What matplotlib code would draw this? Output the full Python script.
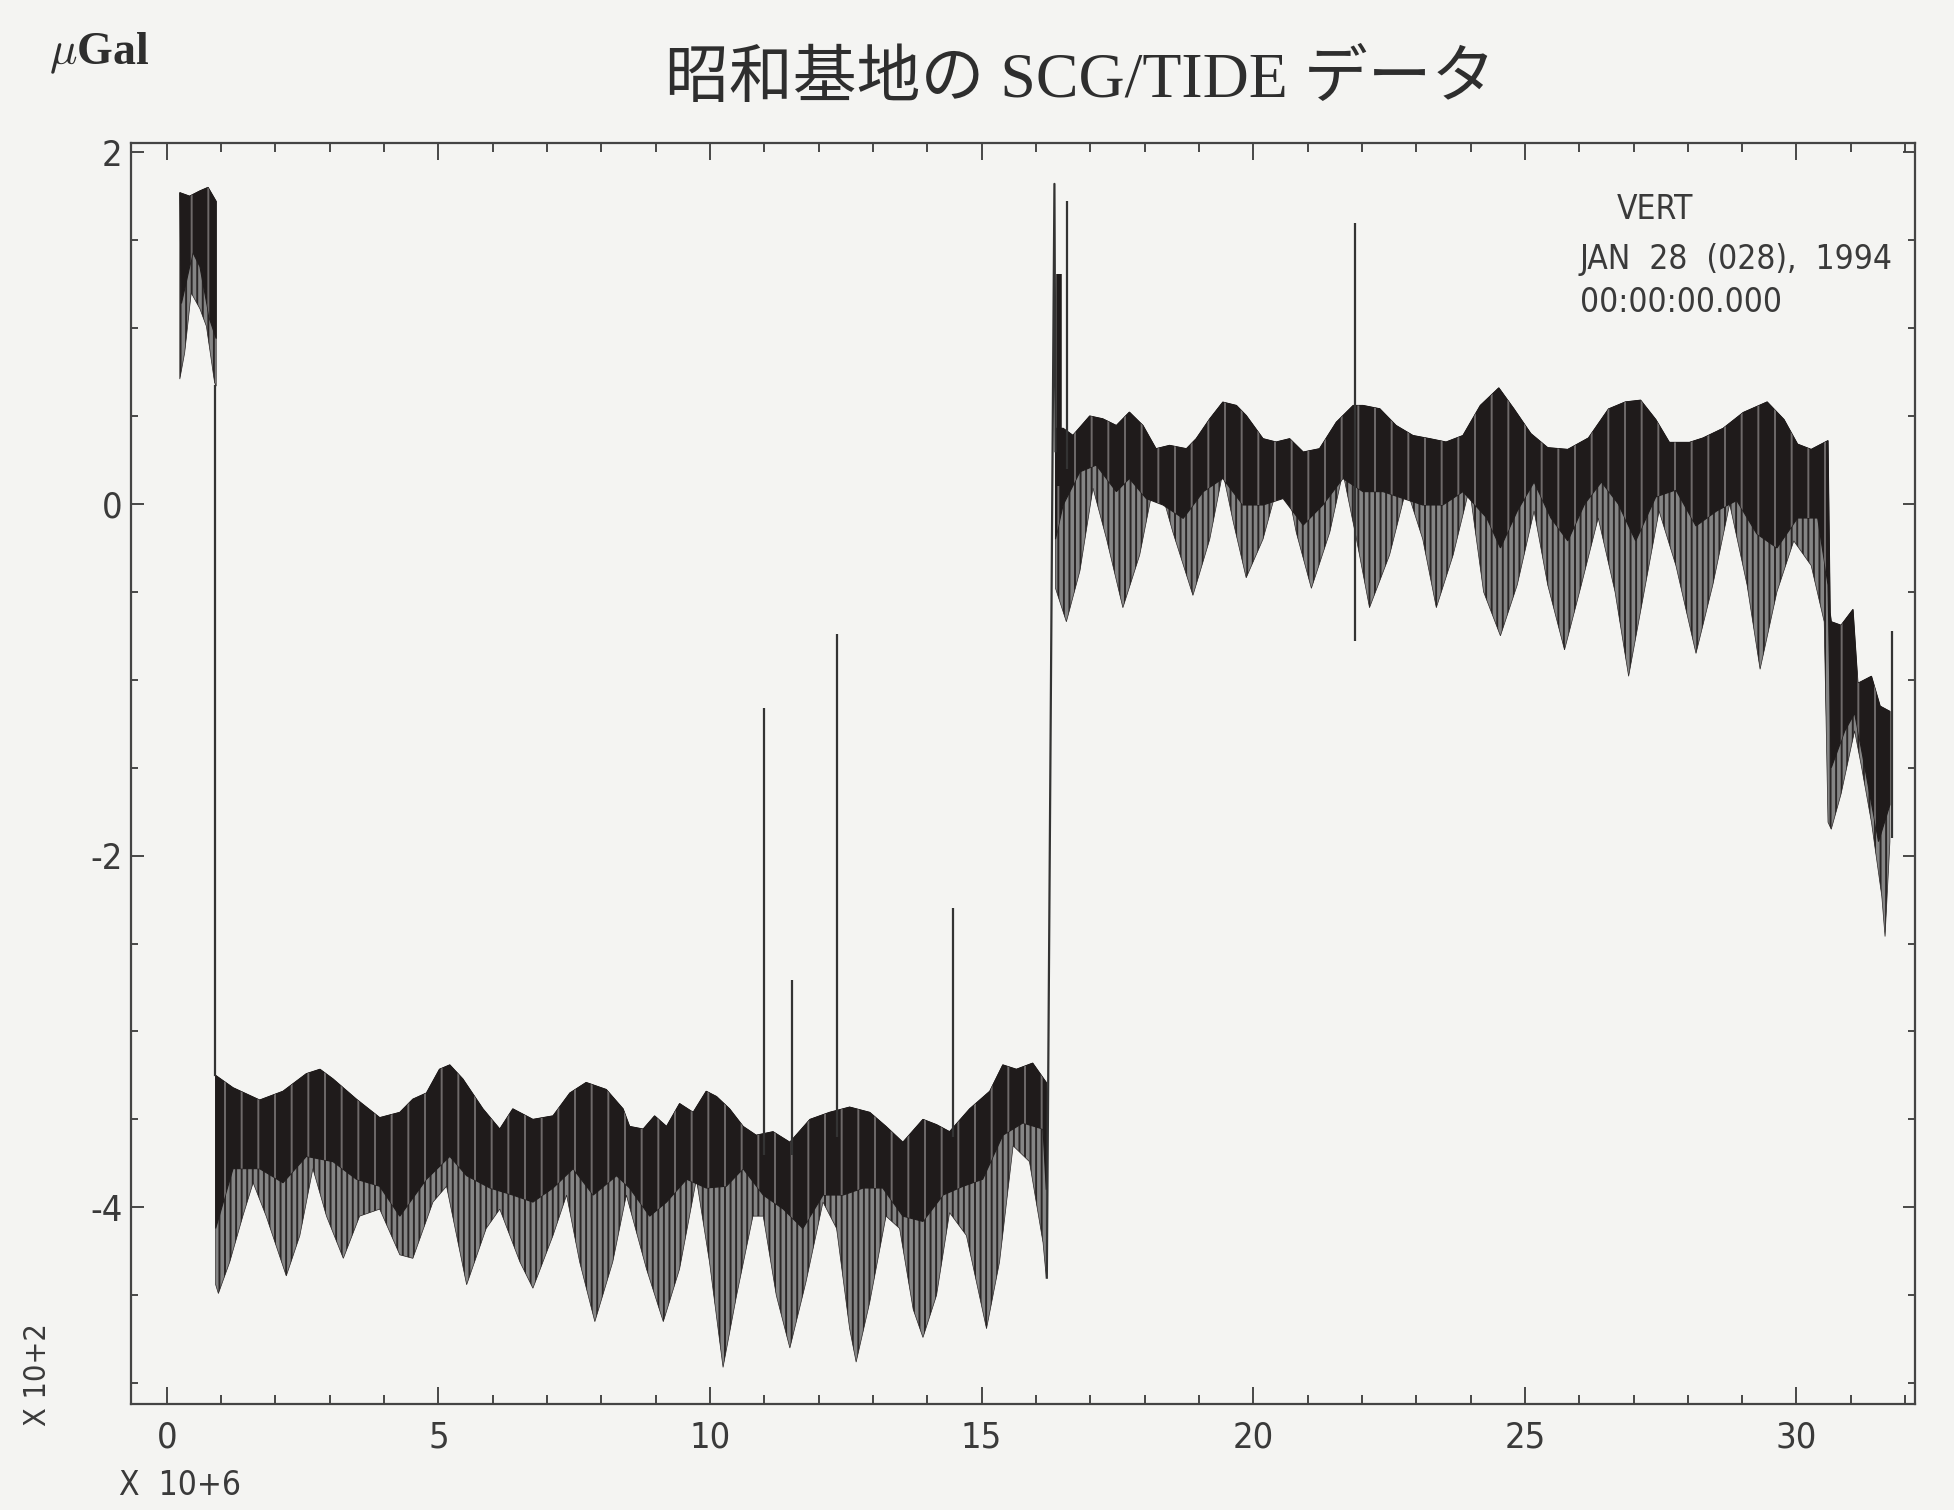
import matplotlib
matplotlib.use('Agg')
import matplotlib.pyplot as plt
import matplotlib.font_manager as fm
import numpy as np
from matplotlib.ticker import MultipleLocator

# ---------------- data (x in 10^6 s, y in 10^2 uGal) ----------------
# segment 1: first short block
s1_up_x = [0.24, 0.42, 0.61, 0.76, 0.91]
s1_up_y = [1.77, 1.75, 1.78, 1.80, 1.72]
s1_core_x = [0.27, 0.48, 0.61, 0.79, 0.91]
s1_core_y = [1.14, 1.43, 1.35, 1.05, 0.94]
s1_lo_x = [0.24, 0.33, 0.45, 0.61, 0.73, 0.88, 0.91]
s1_lo_y = [0.71, 0.86, 1.20, 1.11, 1.01, 0.69, 0.67]

# segment 2: lower block
s2_up_x = [0.90, 1.22, 1.71, 2.14, 2.57, 2.82, 3.06, 3.49, 3.92, 4.29, 4.53, 4.78, 5.02, 5.21,
           5.45, 5.82, 6.13, 6.37, 6.74, 7.11, 7.42, 7.72, 8.09, 8.40, 8.52, 8.77, 8.98, 9.20,
           9.44, 9.69, 9.93, 10.12, 10.36, 10.61, 10.85, 11.16, 11.47, 11.84, 12.20, 12.57,
           12.94, 13.24, 13.55, 13.92, 14.17, 14.41, 14.78, 15.15, 15.39, 15.64, 15.94, 16.19]
s2_up_y = [-3.25, -3.32, -3.39, -3.34, -3.24, -3.215, -3.27, -3.385, -3.49, -3.46, -3.385, -3.35,
           -3.215, -3.19, -3.27, -3.44, -3.555, -3.44, -3.50, -3.48, -3.35, -3.29, -3.33, -3.44,
           -3.54, -3.555, -3.48, -3.54, -3.41, -3.46, -3.34, -3.37, -3.44, -3.54, -3.59, -3.57,
           -3.63, -3.50, -3.46, -3.43, -3.46, -3.54, -3.63, -3.50, -3.53, -3.57, -3.44, -3.34,
           -3.19, -3.215, -3.18, -3.29]
s2_core_x = [0.90, 1.22, 1.71, 2.14, 2.57, 3.06, 3.49, 3.92, 4.29, 4.78, 5.21, 5.52, 5.95, 6.37,
             6.74, 7.11, 7.48, 7.85, 8.28, 8.52, 8.89, 9.20, 9.57, 9.93, 10.30, 10.61, 10.98,
             11.35, 11.71, 12.08, 12.45, 12.82, 13.18, 13.55, 13.92, 14.29, 14.66, 15.02, 15.39,
             15.76, 16.13, 16.19]
s2_core_y = [-4.12, -3.78, -3.78, -3.86, -3.71, -3.74, -3.84, -3.88, -4.05, -3.84, -3.71, -3.82,
             -3.89, -3.93, -3.97, -3.89, -3.78, -3.93, -3.82, -3.89, -4.05, -3.97, -3.84, -3.89,
             -3.88, -3.78, -3.93, -4.01, -4.12, -3.93, -3.93, -3.89, -3.89, -4.05, -4.08, -3.93,
             -3.88, -3.84, -3.59, -3.52, -3.555, -3.90]
s2_lo_x = [0.90, 0.95, 1.16, 1.40, 1.59, 1.83, 2.20, 2.45, 2.69, 2.94, 3.25, 3.55, 3.92, 4.29,
           4.53, 4.90, 5.15, 5.52, 5.88, 6.13, 6.50, 6.74, 7.11, 7.36, 7.60, 7.88, 8.21, 8.46,
           8.83, 9.14, 9.44, 9.75, 9.99, 10.24, 10.49, 10.79, 10.98, 11.22, 11.47, 11.77, 12.08,
           12.33, 12.57, 12.69, 12.94, 13.24, 13.49, 13.74, 13.92, 14.17, 14.41, 14.72, 15.09,
           15.33, 15.58, 15.88, 16.13, 16.19]
s2_lo_y = [-4.44, -4.49, -4.31, -4.05, -3.86, -4.05, -4.39, -4.16, -3.78, -4.05, -4.29, -4.05,
           -4.01, -4.27, -4.29, -3.97, -3.88, -4.44, -4.12, -4.01, -4.31, -4.46, -4.16, -3.93,
           -4.31, -4.65, -4.31, -3.93, -4.35, -4.65, -4.35, -3.84, -4.31, -4.91, -4.50, -4.05,
           -4.05, -4.50, -4.80, -4.42, -3.97, -4.12, -4.69, -4.88, -4.54, -4.05, -4.12, -4.58,
           -4.74, -4.50, -4.03, -4.16, -4.69, -4.31, -3.65, -3.74, -4.20, -4.40]

# segment 3: upper block and final drop
s3_up_x = [16.36, 16.50, 16.68, 16.99, 17.23, 17.48, 17.72, 17.97, 18.21, 18.46, 18.77, 18.95,
           19.20, 19.44, 19.69, 19.87, 20.18, 20.42, 20.67, 20.92, 21.22, 21.53, 21.84, 22.02,
           22.33, 22.63, 22.94, 23.25, 23.55, 23.86, 24.18, 24.52, 24.80, 25.11, 25.42, 25.79,
           26.17, 26.54, 26.85, 27.13, 27.41, 27.66, 28.03, 28.28, 28.65, 29.02, 29.46, 29.77,
           30.02, 30.27, 30.58, 30.62, 30.64, 30.82, 31.04, 31.13, 31.38, 31.54, 31.72]
s3_up_y = [0.43, 0.43, 0.39, 0.50, 0.484, 0.446, 0.522, 0.446, 0.314, 0.333, 0.314, 0.371,
           0.484, 0.579, 0.560, 0.503, 0.371, 0.352, 0.371, 0.295, 0.314, 0.465, 0.560, 0.560,
           0.541, 0.446, 0.389, 0.371, 0.352, 0.389, 0.56, 0.66, 0.54, 0.40, 0.32, 0.31,
           0.375, 0.54, 0.58, 0.59, 0.48, 0.35, 0.35, 0.375, 0.43, 0.52, 0.58, 0.48,
           0.34, 0.31, 0.36, -0.62, -0.67, -0.69, -0.60, -1.02, -0.98, -1.15, -1.18]
s3_core_x = [16.36, 16.50, 16.81, 17.11, 17.48, 17.72, 18.03, 18.34, 18.71, 19.08, 19.44, 19.81,
             20.18, 20.55, 20.92, 21.28, 21.65, 22.02, 22.39, 22.76, 23.12, 23.49, 23.86, 24.30,
             24.55, 24.86, 25.17, 25.48, 25.79, 26.10, 26.41, 26.72, 27.04, 27.41, 27.78, 28.15,
             28.53, 28.90, 29.27, 29.64, 30.02, 30.39, 30.58, 30.64, 30.89, 31.07, 31.26, 31.51,
             31.72]
s3_core_y = [-0.20, -0.006, 0.183, 0.221, 0.070, 0.145, 0.031, -0.006, -0.082, 0.070, 0.145,
             -0.006, -0.006, 0.031, -0.120, -0.006, 0.145, 0.070, 0.070, 0.031, -0.006, -0.006,
             0.070, -0.08, -0.25, -0.04, 0.125, -0.08, -0.21, 0.0, 0.125, 0.0, -0.21, 0.04, 0.08,
             -0.125, -0.04, 0.02, -0.17, -0.25, -0.08, -0.08, -0.46, -1.50, -1.29, -1.19, -1.50,
             -1.92, -1.71]
s3_lo_x = [16.36, 16.56, 16.81, 17.05, 17.30, 17.60, 17.91, 18.21, 18.52, 18.89, 19.20, 19.44,
           19.63, 19.87, 20.18, 20.55, 20.79, 21.07, 21.41, 21.65, 21.90, 22.14, 22.51, 22.82,
           23.12, 23.37, 23.68, 23.98, 24.24, 24.55, 24.86, 25.17, 25.42, 25.73, 26.04, 26.35,
           26.66, 26.91, 27.16, 27.47, 27.78, 28.15, 28.46, 28.77, 29.09, 29.33, 29.64, 29.95,
           30.27, 30.51, 30.58, 30.64, 30.82, 31.07, 31.20, 31.38, 31.57, 31.63, 31.72]
s3_lo_y = [-0.48, -0.67, -0.38, 0.09, -0.20, -0.59, -0.29, 0.18, -0.16, -0.52, -0.20, 0.18,
           -0.10, -0.42, -0.20, 0.22, -0.16, -0.48, -0.16, 0.18, -0.20, -0.59, -0.29, 0.09,
           -0.20, -0.59, -0.29, 0.09, -0.50, -0.75, -0.46, -0.04, -0.46, -0.83, -0.46, -0.08,
           -0.50, -0.98, -0.56, -0.04, -0.35, -0.85, -0.46, 0.0, -0.46, -0.94, -0.50, -0.21,
           -0.35, -0.67, -1.81, -1.85, -1.65, -1.29, -1.50, -1.81, -2.23, -2.46, -1.92]

# isolated spikes (x, bottom, top)
spike_x = [10.99, 11.51, 12.33, 14.48, 21.88, 16.58, 31.76]
spike_lo = [-3.70, -3.70, -3.60, -3.60, -0.78, 0.20, -1.90]
spike_hi = [-1.16, -2.71, -0.74, -2.30, 1.60, 1.72, -0.72]
thick_spike_x = [16.42]
thick_spike_lo = [0.10]
thick_spike_hi = [1.31]

# connecting steps (offset jumps)
step1_x = [0.89, 0.89]
step1_y = [0.67, -3.25]
step2_x = [16.20, 16.34, 16.36]
step2_y = [-4.40, 1.82, 0.30]

x_major = 5
x_minor = 1
y_major = 2
y_minor = 0.5
xlim = (-0.66, 32.18)
ylim = (-5.12, 2.05)
x_ticks = [0, 5, 10, 15, 20, 25, 30]
x_labels = ['0', '5', '10', '15', '20', '25', '30']
y_ticks = [-4, -2, 0, 2]
y_labels = ['-4', '-2', '0', '2']

# ---------------- styling ----------------
names = {f.name for f in fm.fontManager.ttflist}
narrow = 'Liberation Sans Narrow' if 'Liberation Sans Narrow' in names else 'DejaVu Sans'
stretch = 'normal' if narrow != 'DejaVu Sans' else 'condensed'
ink = '#3a3a3a'
bg = '#f4f4f2'

plt.rcParams['mathtext.fontset'] = 'cm'
plt.rcParams['hatch.linewidth'] = 1.4

fig = plt.figure(figsize=(19.54, 15.10), dpi=100, facecolor=bg)
ax = fig.add_axes([0.067, 0.070, 0.913, 0.835])
ax.set_facecolor(bg)


def band(ux, uy, cx, cy, lx, ly):
    ux, uy, cx, cy, lx, ly = map(np.asarray, (ux, uy, cx, cy, lx, ly))
    ax.fill(np.r_[ux, lx[::-1]], np.r_[uy, ly[::-1]], facecolor='#858585',
            edgecolor='#2a2626', hatch='|||', linewidth=0.5, zorder=2)
    ax.fill(np.r_[ux, cx[::-1]], np.r_[uy, cy[::-1]], facecolor='#1f1b1b',
            edgecolor='#1f1b1b', linewidth=0.8, zorder=3)
    ax.fill(np.r_[ux, cx[::-1]], np.r_[uy, cy[::-1]], facecolor='none',
            edgecolor='#6e6a6a', hatch='|', linewidth=0, zorder=3.5)


band(s1_up_x, s1_up_y, s1_core_x, s1_core_y, s1_lo_x, s1_lo_y)
band(s2_up_x, s2_up_y, s2_core_x, s2_core_y, s2_lo_x, s2_lo_y)
band(s3_up_x, s3_up_y, s3_core_x, s3_core_y, s3_lo_x, s3_lo_y)

ax.vlines(spike_x, spike_lo, spike_hi, color='#333333', lw=1.6, zorder=4)
ax.vlines(thick_spike_x, thick_spike_lo, thick_spike_hi, color='#1f1b1b', lw=4, zorder=4)
ax.plot(step1_x, step1_y, color='#333333', lw=1.6, zorder=4)
ax.plot(step2_x, step2_y, color='#333333', lw=1.6, zorder=4)

ax.set_xlim(*xlim)
ax.set_ylim(*ylim)
ax.xaxis.set_major_locator(MultipleLocator(x_major))
ax.xaxis.set_minor_locator(MultipleLocator(x_minor))
ax.yaxis.set_major_locator(MultipleLocator(y_major))
ax.yaxis.set_minor_locator(MultipleLocator(y_minor))
ax.tick_params(axis='x', which='major', direction='in', length=12, width=1.3,
               top=True, bottom=True, colors=ink, pad=12, labelsize=26)
ax.tick_params(axis='x', which='minor', direction='in', length=6.5, width=1.3,
               top=True, bottom=True, colors=ink)
ax.tick_params(axis='y', which='major', direction='in', length=9, width=1.3,
               left=True, right=True, colors=ink, pad=6, labelsize=26)
ax.tick_params(axis='y', which='minor', direction='in', length=5, width=1.3,
               left=True, right=True, colors=ink)
ax.set_xticks(x_ticks)
ax.set_xticklabels(x_labels, family=narrow, stretch=stretch, color=ink)
ax.set_yticks(y_ticks)
ax.set_yticklabels(y_labels, family=narrow, stretch=stretch, color=ink)
for s in ax.spines.values():
    s.set_color('#444444')
    s.set_linewidth(1.6)

# texts
fig.text(0.553, 0.946, '昭和基地の SCG/TIDE データ', ha='center', va='center', fontsize=46,
         family=['Liberation Serif', 'Noto Sans CJK JP'], color='#2e2e2e')
fig.text(0.025, 0.965, r'$\mu$' + 'Gal', ha='left', va='center', fontsize=33,
         family='Liberation Serif', fontweight='bold', color='#2e2e2e')
fig.text(0.019, 0.090, 'X 10+2', rotation=90, ha='center', va='center', fontsize=22,
         family=narrow, stretch=stretch, color=ink)
fig.text(0.061, 0.0165, 'X  10+6', ha='left', va='center', fontsize=24,
         family=narrow, stretch=stretch, color=ink)
ax.text(0.854, 0.948, 'VERT', transform=ax.transAxes, ha='center', va='center', fontsize=24,
        family=narrow, stretch=stretch, color=ink)
ax.text(0.812, 0.908, 'JAN  28  (028),  1994', transform=ax.transAxes, ha='left', va='center',
        fontsize=24, family=narrow, stretch=stretch, color=ink)
ax.text(0.812, 0.874, '00:00:00.000', transform=ax.transAxes, ha='left', va='center',
        fontsize=24, family=narrow, stretch=stretch, color=ink)

fig.savefig('out.png', dpi=100, facecolor=bg)
